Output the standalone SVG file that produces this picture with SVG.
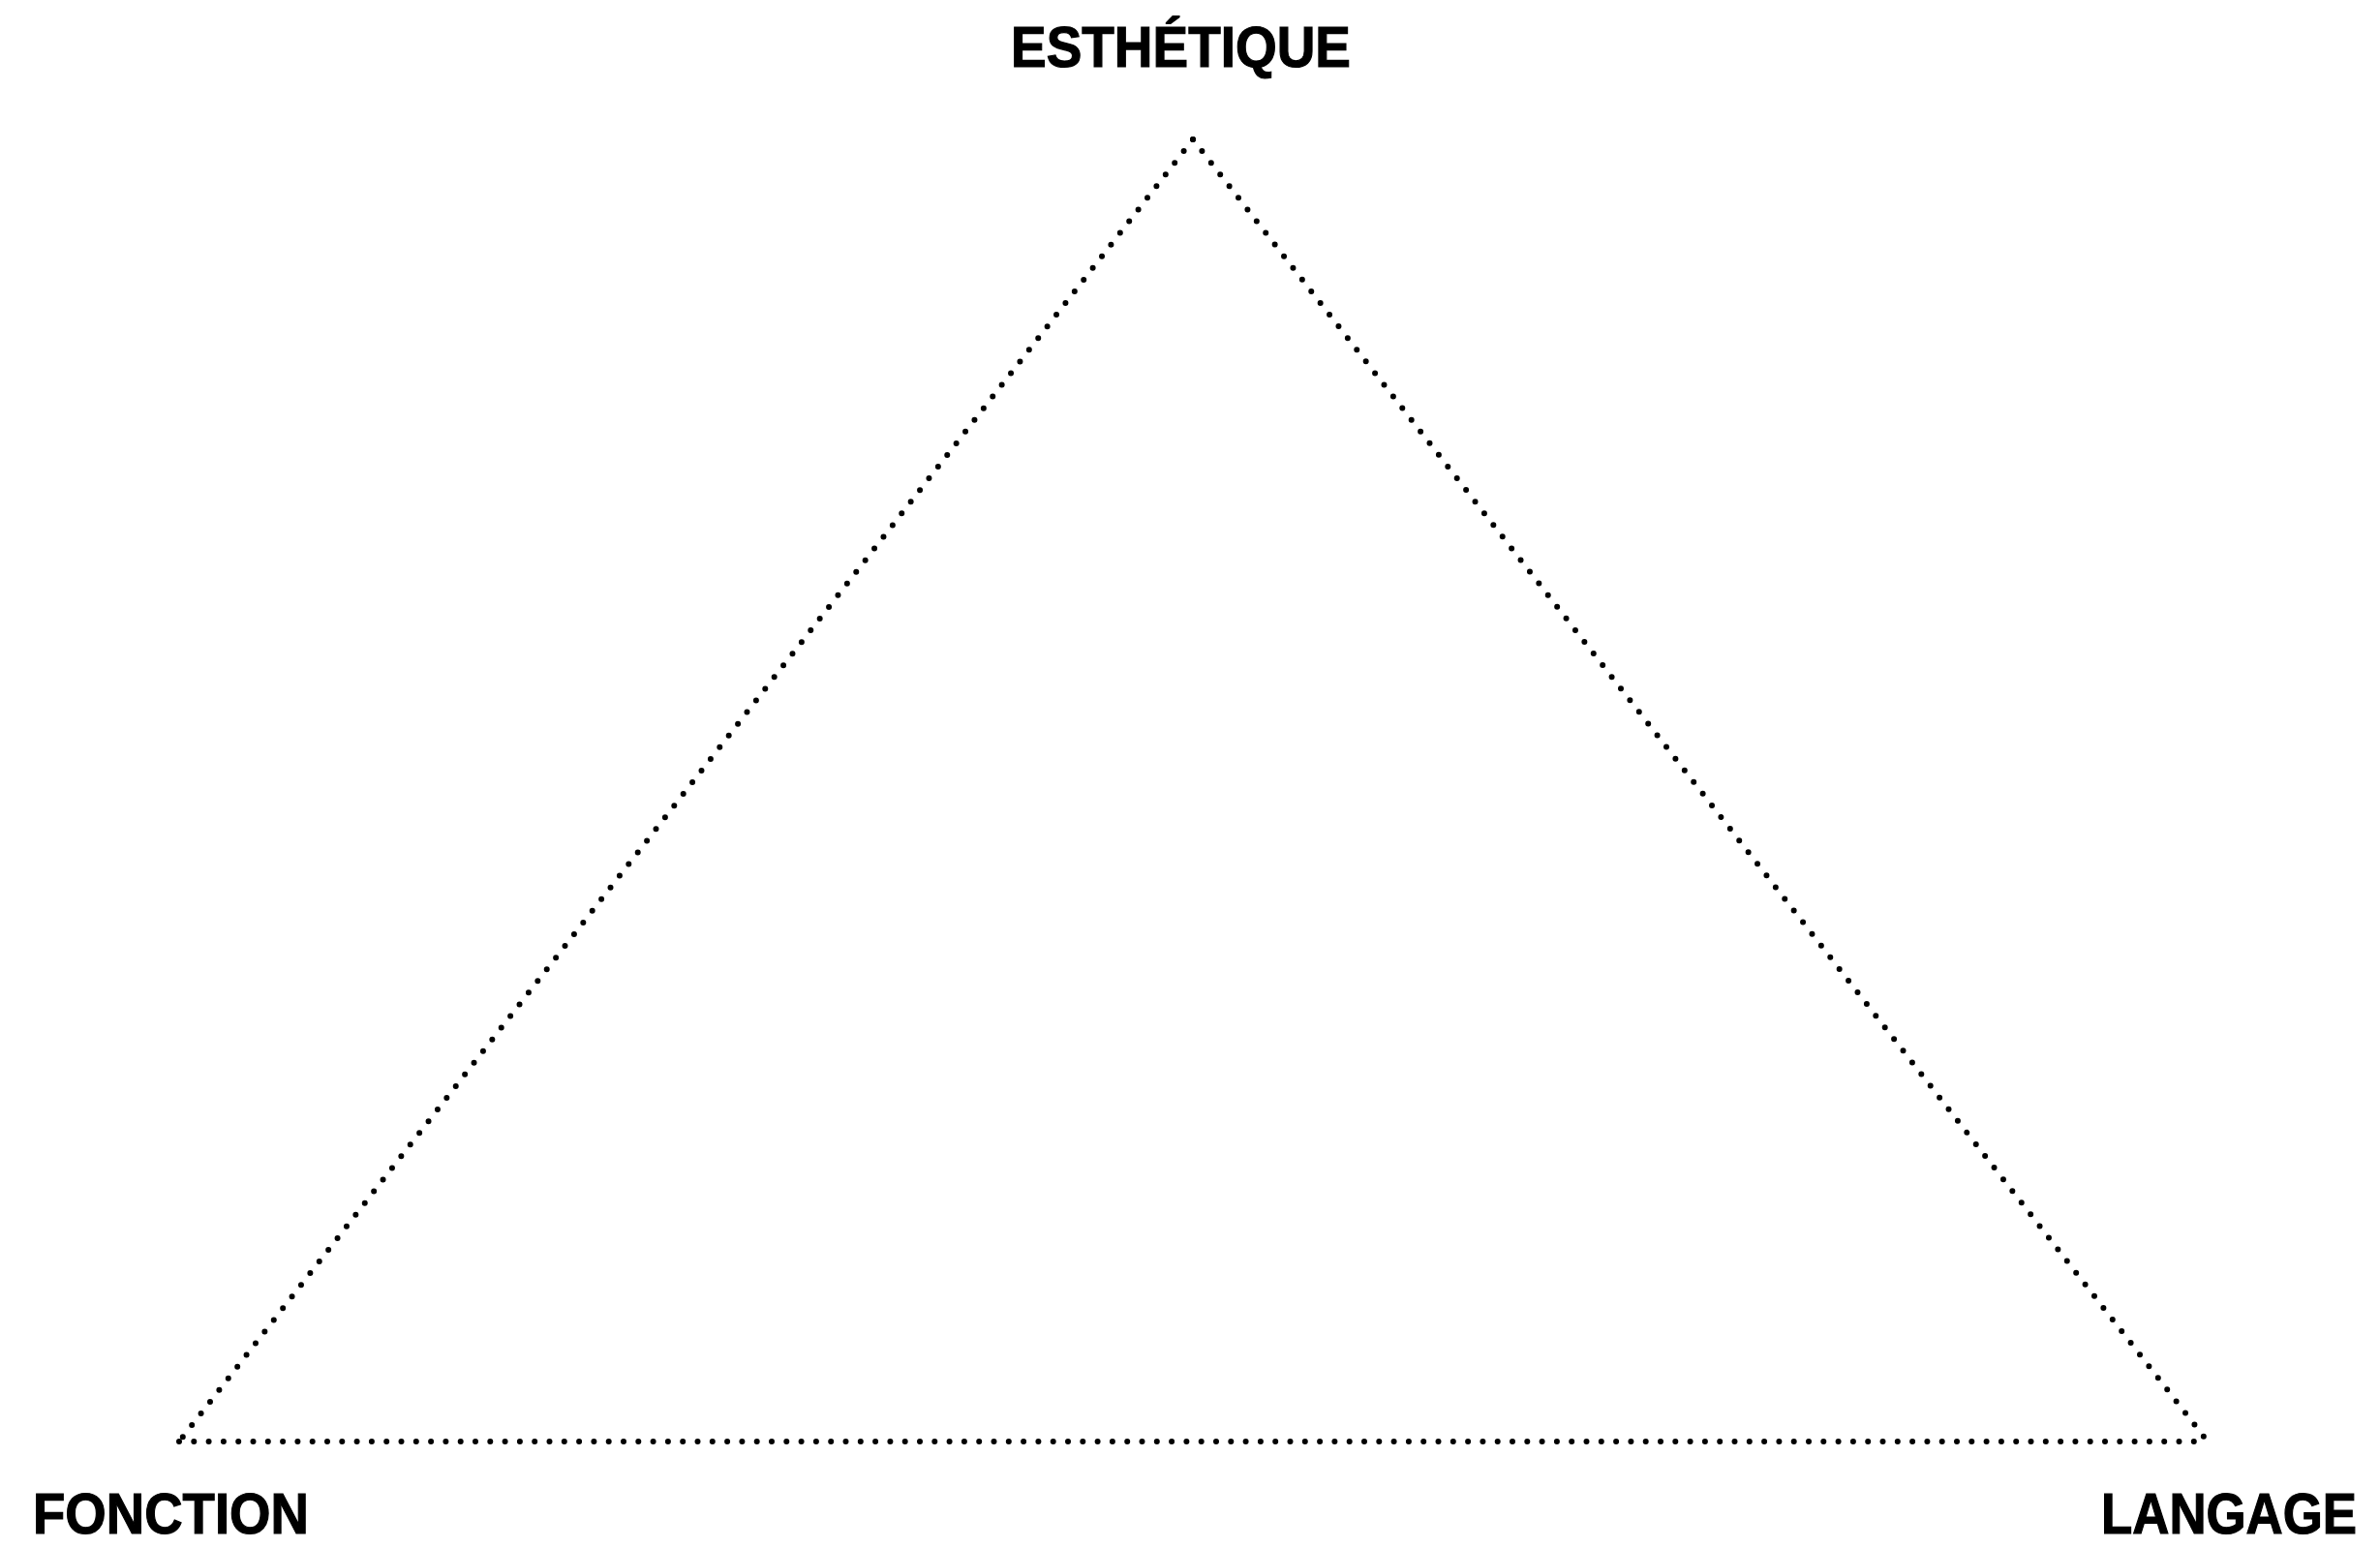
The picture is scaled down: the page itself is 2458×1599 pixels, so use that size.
<svg xmlns="http://www.w3.org/2000/svg" width="2458" height="1599" viewBox="0 0 2458 1599">
<style>
.lbl{font-family:"Liberation Sans","Arial",sans-serif;font-weight:bold;font-size:60px;fill:#000;stroke:#000;stroke-width:1.2}
.edge{fill:none;stroke:#000;stroke-width:6;stroke-linecap:round;stroke-dasharray:0 15.3}
</style>
<rect width="2458" height="1599" fill="#fff"/>
<g id="connectors">
<line class="edge" x1="1232" y1="144" x2="185" y2="1489"/>
<line class="edge" x1="1232" y1="144" x2="2280" y2="1489"/>
<line class="edge" x1="185" y1="1489" x2="2280" y2="1489"/>
</g>
<g id="node-esthetique"><text class="lbl" x="1044" y="69" textLength="351" lengthAdjust="spacingAndGlyphs">ESTHÉTIQUE</text></g>
<g id="node-fonction"><text class="lbl" x="34" y="1584" textLength="285" lengthAdjust="spacingAndGlyphs">FONCTION</text></g>
<g id="node-langage"><text class="lbl" x="2170" y="1584" textLength="264" lengthAdjust="spacingAndGlyphs">LANGAGE</text></g>
</svg>
